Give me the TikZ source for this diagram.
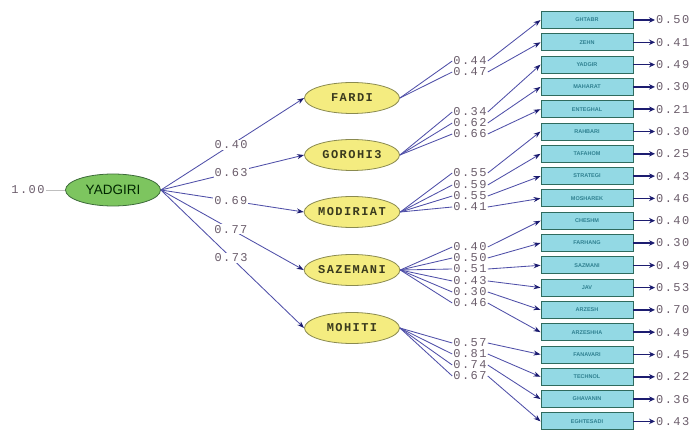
\documentclass[tikz,border=0pt]{standalone}
\usepackage{fontspec}
\setmainfont{Liberation Sans}
\newfontfamily\monofnt[LetterSpace=12]{Liberation Mono}
\usetikzlibrary{shapes.geometric,arrows.meta}
\definecolor{yelfill}{HTML}{F4EC80}
\definecolor{yelline}{HTML}{8A8A50}
\definecolor{grnfill}{HTML}{7DC55F}
\definecolor{grnline}{HTML}{3D6B3A}
\definecolor{boxfill}{HTML}{93D9E4}
\definecolor{boxline}{HTML}{2F6B5E}
\definecolor{pathcol}{HTML}{4F4FA8}
\definecolor{headcol}{HTML}{1C1C70}
\definecolor{numcol}{HTML}{6B5D6B}
\definecolor{boxtext}{HTML}{2F8090}
\definecolor{lattext}{HTML}{3A3A1E}
\tikzset{
  latent/.style={ellipse,draw=yelline,fill=yelfill,line width=0.8pt,minimum width=95pt,minimum height=31pt,inner sep=0pt,font=\monofnt\fontsize{12}{12}\selectfont\bfseries,text=lattext},
  rootlat/.style={ellipse,draw=grnline,fill=grnfill,line width=0.8pt,minimum width=95pt,minimum height=32pt,inner sep=0pt,font=\fontsize{13.5}{13.5}\selectfont,text=black!85!green},
  obs/.style={rectangle,draw=boxline,fill=boxfill,line width=0.9pt,minimum width=92pt,minimum height=17pt,inner sep=0pt,font=\fontsize{5.5}{5.5}\selectfont\bfseries,text=boxtext},
  num/.style={font=\monofnt\fontsize{12}{12}\selectfont,text=numcol,inner sep=1pt},
  numw/.style={num,fill=white},
  pth/.style={draw=pathcol,line width=0.85pt},
  arr/.style={pth,-{Stealth[length=7pt,width=5pt,color=headcol]}},
  err/.style={draw=headcol,line width=1.5pt,-{Stealth[length=6pt,width=5.5pt]}},
}
\begin{document}
\begin{tikzpicture}[x=1pt,y=-1pt]
\useasboundingbox (0,0) rectangle (693,430);
% root
\node[rootlat] (yad) at (113,190) {YADGIRI};
\node[num] (one) at (28,190) {1.00};
\draw[draw=gray!50,line width=0.8pt] (one.east) -- (yad.west);
% latents
\node[latent] (fardi) at (352,98) {FARDI};
\node[latent] (goro) at (352,155) {GOROHI3};
\node[latent] (modi) at (352,212) {MODIRIAT};
\node[latent] (saz) at (352,270) {SAZEMANI};
\node[latent] (moh) at (352,328) {MOHITI};
% structural paths
\foreach \t/\v in {fardi/0.40,goro/0.63,modi/0.69,saz/0.77,moh/0.73}{
  \draw[arr] (yad.east) -- node[numw,pos=0.49] {\v} (\t.west);
}
% observed boxes and errors
\foreach \i/\t/\e in {1/GHTABR/0.50,2/ZEHN/0.41,3/YADGIR/0.49,4/MAHARAT/0.30,5/ENTEGHAL/0.21,
  6/RAHBARI/0.30,7/TAFAHOM/0.25,8/STRATEGI/0.43,9/MOSHAREK/0.46,10/CHESHM/0.40,
  11/FARHANG/0.30,12/SAZMANI/0.49,13/JAV/0.53,14/ARZESH/0.70,15/ARZESHHA/0.49,
  16/FANAVARI/0.45,17/TECHNOL/0.22,18/GHAVANIN/0.36,19/EGHTESADI/0.43}{
  \node[obs] (b\i) at (587,{20+(\i-1)*22.3}) {\t};
  \node[num,anchor=west] (e\i) at (655,{20+(\i-1)*22.3}) {\e};
  \draw[err] (b\i.east) -- (e\i.west);
}
% loadings
\foreach \l/\i/\v/\y in {fardi/1/0.44/61,fardi/2/0.47/72,
  goro/3/0.34/112,goro/4/0.62/123,goro/5/0.66/134,
  modi/6/0.55/173,modi/7/0.59/185,modi/8/0.55/196,modi/9/0.41/207,
  saz/10/0.40/247,saz/11/0.50/258,saz/12/0.51/269,saz/13/0.43/281,saz/14/0.30/292,saz/15/0.46/303,
  moh/16/0.57/343,moh/17/0.81/354,moh/18/0.74/365,moh/19/0.67/376}{
  \node[num] (l\i) at (470,\y) {\v};
  \draw[pth] (\l.east) -- (l\i.west);
  \draw[arr] (l\i.east) -- (b\i.west);
}
\end{tikzpicture}
\end{document}
